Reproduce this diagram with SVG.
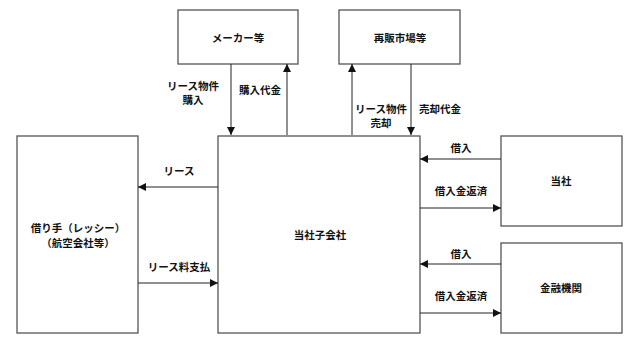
<svg xmlns="http://www.w3.org/2000/svg" width="640" height="346" viewBox="0 0 640 346">
<style>
.box{fill:#fff;stroke:#555;stroke-width:1.3}
.ln{stroke:#222;stroke-width:1;fill:none}
text{font-family:"Noto Sans CJK JP","Noto Sans CJK SC",sans-serif;font-size:10.5px;font-weight:bold;fill:#111;text-anchor:middle;dominant-baseline:central}
</style>
<defs>
<marker id="ah" viewBox="0 0 10 10" refX="10" refY="5" markerWidth="8" markerHeight="8" markerUnits="userSpaceOnUse" orient="auto">
<path d="M0,0 L10,5 L0,10 z" fill="#111"/>
</marker>
</defs>
<rect width="640" height="346" fill="#fff"/>
<g id="maker"><rect class="box" x="178" y="10" width="120" height="54"/><text x="238" y="37">メーカー等</text></g>
<g id="resale"><rect class="box" x="339" y="10" width="121" height="54"/><text x="400" y="37">再販市場等</text></g>
<g id="sub"><rect class="box" x="218" y="136" width="202" height="197"/><text x="320" y="234">当社子会社</text></g>
<g id="lessee"><rect class="box" x="17" y="136" width="121" height="197"/><text x="78" y="227">借り手（レッシー）</text><text x="78" y="242">（航空会社等）</text></g>
<g id="company"><rect class="box" x="501" y="136" width="121" height="90"/><text x="561" y="180">当社</text></g>
<g id="bank"><rect class="box" x="501" y="243" width="121" height="90"/><text x="561" y="287">金融機関</text></g>
<g id="connectors">
<line class="ln" x1="231" y1="64" x2="231" y2="135" marker-end="url(#ah)"/>
<line class="ln" x1="287" y1="135" x2="287" y2="64" marker-end="url(#ah)"/>
<line class="ln" x1="352" y1="135" x2="352" y2="64" marker-end="url(#ah)"/>
<line class="ln" x1="411" y1="64" x2="411" y2="135" marker-end="url(#ah)"/>
<line class="ln" x1="218" y1="187" x2="138" y2="187" marker-end="url(#ah)"/>
<line class="ln" x1="138" y1="283" x2="218" y2="283" marker-end="url(#ah)"/>
<line class="ln" x1="501" y1="159" x2="420" y2="159" marker-end="url(#ah)"/>
<line class="ln" x1="420" y1="208" x2="501" y2="208" marker-end="url(#ah)"/>
<line class="ln" x1="501" y1="264" x2="420" y2="264" marker-end="url(#ah)"/>
<line class="ln" x1="420" y1="313" x2="501" y2="313" marker-end="url(#ah)"/>
<text x="193" y="85">リース物件</text><text x="193" y="99">購入</text>
<text x="260" y="89">購入代金</text>
<text x="381" y="108">リース物件</text><text x="381" y="122">売却</text>
<text x="440" y="108">売却代金</text>
<text x="179" y="170">リース</text>
<text x="179" y="266">リース料支払</text>
<text x="461" y="147">借入</text>
<text x="461" y="190">借入金返済</text>
<text x="461" y="253">借入</text>
<text x="461" y="295">借入金返済</text>
</g>
</svg>
